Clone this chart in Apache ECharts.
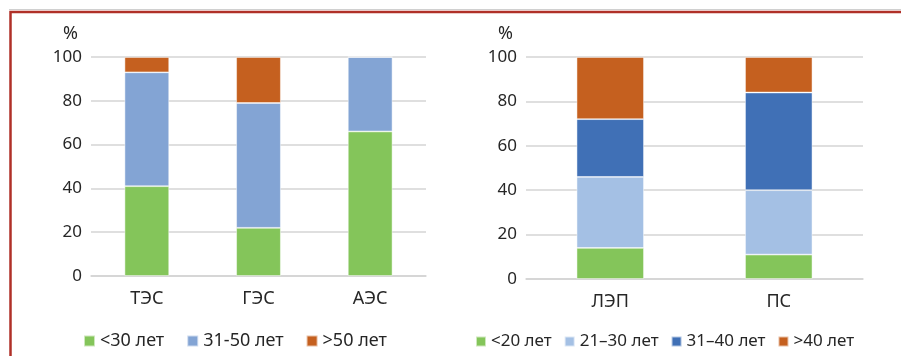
<!DOCTYPE html>
<html>
<head>
<meta charset="utf-8">
<script src="https://cdn.jsdelivr.net/npm/echarts@6/dist/echarts.min.js"></script>
<style>
  html, body { margin: 0; padding: 0; background: #fff; }
  #main { width: 901px; height: 356px; }
</style>
</head>
<body>
<div id="main"></div>
<script>
// левая диаграмма: электростанции
var plantCats = ['ТЭС', 'ГЭС', 'АЭС'];
var plantUnder30 = [41, 22, 66];
var plant31to50 = [52, 57, 34];
var plantOver50 = [7, 21, 0];

// правая диаграмма: сети
var gridCats = ['ЛЭП', 'ПС'];
var gridUnder20 = [14, 11];
var grid21to30 = [32, 29];
var grid31to40 = [26, 44];
var gridOver40 = [28, 16];

var yMin = 0, yMax = 100, yStep = 20;

var fontFam = '"Noto Sans", "DejaVu Sans", sans-serif';
var textColor = '#262626';

function yAx(gridIndex) {
  return {
    type: 'value',
    gridIndex: gridIndex,
    min: yMin,
    max: yMax,
    interval: yStep,
    name: '%',
    nameLocation: 'end',
    nameGap: 14,
    nameTextStyle: { color: textColor, fontSize: 18, fontFamily: fontFam, align: 'right', padding: [0, 13, 0, 0] },
    axisLine: { show: false },
    axisTick: { show: false },
    axisLabel: { color: textColor, fontSize: 17, fontFamily: fontFam, margin: 9 },
    splitLine: { lineStyle: { color: '#d4d4d4', width: 1.5 } }
  };
}

function xAx(gridIndex, cats) {
  return {
    type: 'category',
    gridIndex: gridIndex,
    data: cats,
    axisTick: { show: false },
    axisLine: { lineStyle: { color: '#d4d4d4', width: 1.5 } },
    axisLabel: { color: textColor, fontSize: 18, fontFamily: fontFam, margin: 14 }
  };
}

function bar(name, data, color, idx, stack) {
  return {
    name: name,
    type: 'bar',
    stack: stack,
    xAxisIndex: idx,
    yAxisIndex: idx,
    barWidth: '40%',
    data: data,
    itemStyle: { color: color, borderColor: 'rgba(255,255,255,0.6)', borderWidth: 0.8 }
  };
}

var chart = echarts.init(document.getElementById('main'));
var option = {
  animation: false,
  backgroundColor: '#fff',
  graphic: [
    { type: 'line', shape: { x1: 9, y1: 9.5, x2: 901, y2: 9.5 }, style: { stroke: '#d0d0d0', lineWidth: 1 } },
    { type: 'polyline', shape: { points: [[10.5, 400], [10.5, 12], [905, 12]] }, style: { stroke: '#b03028', lineWidth: 2.5, fill: null } }
  ],
  grid: [
    { left: 91, right: 475, top: 57, bottom: 80 },
    { left: 526, right: 38, top: 57, bottom: 77 }
  ],
  legend: [
    {
      data: ['<30 лет', '31-50 лет', '>50 лет'],
      left: 78, top: 327,
      icon: 'rect', itemWidth: 11, itemHeight: 11, itemGap: 22,
      textStyle: { color: textColor, fontSize: 18, fontFamily: fontFam }
    },
    {
      data: ['<20 лет', '21–30 лет', '31–40 лет', '>40 лет'],
      left: 470, top: 328,
      icon: 'rect', itemWidth: 10, itemHeight: 10, itemGap: 12,
      textStyle: { color: textColor, fontSize: 17, fontFamily: fontFam }
    }
  ],
  xAxis: [xAx(0, plantCats), xAx(1, gridCats)],
  yAxis: [yAx(0), yAx(1)],
  series: [
    bar('<30 лет', plantUnder30, '#84c55a', 0, 'a'),
    bar('31-50 лет', plant31to50, '#83a4d4', 0, 'a'),
    bar('>50 лет', plantOver50, '#c5601f', 0, 'a'),
    bar('<20 лет', gridUnder20, '#84c55a', 1, 'b'),
    bar('21–30 лет', grid21to30, '#a4c0e4', 1, 'b'),
    bar('31–40 лет', grid31to40, '#4070b6', 1, 'b'),
    bar('>40 лет', gridOver40, '#c5601f', 1, 'b')
  ]
};
chart.setOption(option);
</script>
</body>
</html>
